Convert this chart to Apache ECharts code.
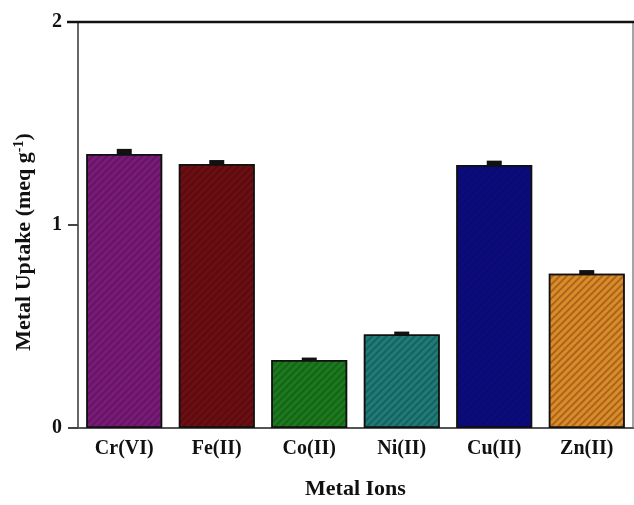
<!DOCTYPE html>
<html>
<head>
<meta charset="utf-8">
<script src="https://cdn.jsdelivr.net/npm/echarts@6/dist/echarts.min.js"></script>
<style>html,body{margin:0;padding:0;background:#fff;}#c{width:634px;height:505px;}</style>
</head>
<body>
<div id="c"></div>
<script>
var categories = ['Cr(VI)', 'Fe(II)', 'Co(II)', 'Ni(II)', 'Cu(II)', 'Zn(II)'];
var uptake = [1.35, 1.30, 0.335, 0.46, 1.295, 0.76];
var uptakeErr = [0.025, 0.02, 0.012, 0.015, 0.022, 0.018];
var yTicks = [0, 1, 2];

var barColors = ['#7a1a78', '#6c0e12', '#1c7a1e', '#1f7b77', '#0b0b7e', '#d98c2c'];
var decalColors = ['rgba(0,0,0,0.18)', 'rgba(0,0,0,0.18)', 'rgba(0,0,0,0.2)', 'rgba(0,0,0,0.22)', 'rgba(0,0,0,0.12)', 'rgba(120,50,0,0.45)'];

var chart = echarts.init(document.getElementById('c'), null, {renderer: 'canvas'});
var font = '"Liberation Serif", "Times New Roman", serif';

var barData = uptake.map(function (v, i) {
  return {
    value: v,
    itemStyle: {
      color: barColors[i],
      borderColor: '#111',
      borderWidth: 1.5,
      decal: {
        symbol: 'rect',
        symbolSize: 1,
        dashArrayX: [1, 0],
        dashArrayY: [2, 3],
        rotation: -Math.PI / 4,
        color: decalColors[i]
      }
    }
  };
});

var errData = uptake.map(function (v, i) { return [i, v, uptakeErr[i]]; });

chart.setOption({
  animation: false,
  backgroundColor: '#fff',
  grid: {left: 78, right: 1, top: 22, bottom: 72, show: true, borderColor: '#888', borderWidth: 1.5},
  xAxis: {
    type: 'category',
    data: categories,
    name: 'Metal Ions',
    nameLocation: 'middle',
    nameGap: 50,
    nameTextStyle: {fontFamily: font, fontWeight: 'bold', fontSize: 22, color: '#111'},
    axisLine: {show: true, lineStyle: {color: '#555', width: 2}},
    axisTick: {show: false},
    axisLabel: {fontFamily: font, fontWeight: 'bold', fontSize: 20, color: '#111', margin: 11}
  },
  yAxis: {
    type: 'value',
    min: 0, max: 2, interval: 1,
    name: 'Metal Uptake (meq g{sup|-1})',
    nameLocation: 'middle',
    nameGap: 42,
    nameTextStyle: {
      fontFamily: font, fontWeight: 'bold', fontSize: 22, color: '#111',
      padding: [0, 34, 0, 0],
      rich: {sup: {fontFamily: font, fontWeight: 'bold', fontSize: 14, color: '#111', verticalAlign: 'top', padding: [0, 0, 10, 0]}}
    },
    splitLine: {show: false},
    axisLine: {show: true, lineStyle: {color: '#666', width: 2}},
    axisTick: {show: true, inside: false, length: 10, lineStyle: {color: '#444', width: 2}},
    axisLabel: {fontFamily: font, fontWeight: 'bold', fontSize: 20, color: '#111', margin: 16,
      formatter: function (v) { return yTicks.indexOf(v) >= 0 ? String(v) : ''; }}
  },
  series: [
    {
      type: 'bar',
      data: barData,
      barCategoryGap: '18%',
      z: 2
    },
    {
      type: 'custom',
      data: errData,
      z: 3,
      renderItem: function (params, api) {
        var x = api.value(0), v = api.value(1), e = api.value(2);
        var top = api.coord([x, v + e]);
        var base = api.coord([x, v]);
        var w = 15;
        return {
          type: 'rect',
          shape: {x: top[0] - w / 2, y: top[1], width: w, height: base[1] - top[1] + 1},
          style: {fill: '#111'}
        };
      }
    }
  ],
  graphic: [
    {type: 'line', shape: {x1: 67, y1: 22, x2: 634, y2: 22}, style: {stroke: '#111', lineWidth: 2.5}, z: 10}
  ]
});
</script>
</body>
</html>
